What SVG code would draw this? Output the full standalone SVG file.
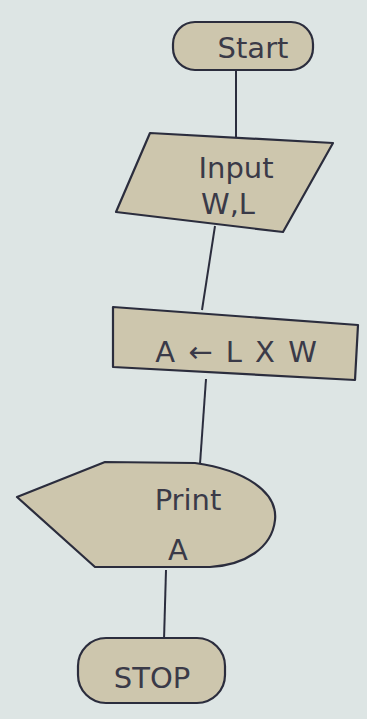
<svg xmlns="http://www.w3.org/2000/svg" width="367" height="719" viewBox="0 0 367 719">
<style>
.n{fill:#cdc6ad;stroke:#2b2d3d;stroke-width:2.2;stroke-linejoin:round}
.t{font-family:"DejaVu Sans","Liberation Sans",sans-serif;font-size:29px;fill:#3a3a48;text-anchor:middle}
.c{stroke:#2b2d3d;stroke-width:2;fill:none}
</style>
<rect width="367" height="719" fill="#dde5e4"/>
<g id="connectors">
<line class="c" x1="236" y1="70" x2="236" y2="138"/>
<line class="c" x1="215" y1="226" x2="202" y2="310"/>
<line class="c" x1="206" y1="379" x2="200" y2="464"/>
<line class="c" x1="166" y1="570" x2="164" y2="640"/>
</g>
<g id="start">
<rect class="n" x="173" y="22" width="140" height="48" rx="22"/>
<text class="t" x="253" y="58" font-size="31">Start</text>
</g>
<g id="input">
<polygon class="n" points="150,133 333,143 283,232 116,212"/>
<text class="t" x="236" y="178">Input</text>
<text class="t" x="228" y="214">W,L</text>
</g>
<g id="process">
<polygon class="n" points="113,307 358,325 355,380 113,367"/>
<text class="t" x="237" y="362" font-size="31" letter-spacing="2">A ← L X W</text>
</g>
<g id="print">
<path class="n" d="M17,497 L105,462 L195,463 C245,470 278,492 275,520 C272,548 245,565 210,567 L95,567 Z"/>
<text class="t" x="188" y="510">Print</text>
<text class="t" x="178" y="560">A</text>
</g>
<g id="stop">
<rect class="n" x="78" y="638" width="147" height="65" rx="28"/>
<text class="t" x="152" y="688">STOP</text>
</g>
</svg>
